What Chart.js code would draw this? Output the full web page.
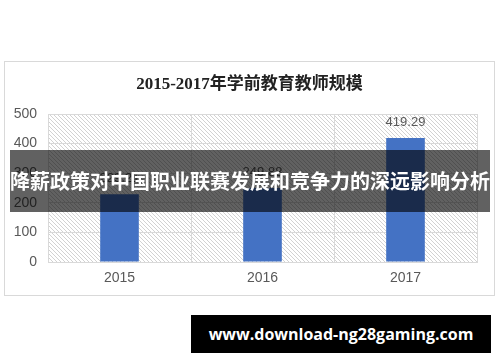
<!DOCTYPE html>
<html>
<head>
<meta charset="utf-8">
<script src="https://cdn.jsdelivr.net/npm/chart.js@4/dist/chart.umd.min.js"></script>
<style>
  html, body { margin: 0; padding: 0; background: #fff; }
  body { width: 500px; height: 362px; position: relative; overflow: hidden; font-family: "Noto Sans CJK SC", sans-serif; }
  #box { position: absolute; left: 4px; top: 61px; width: 489px; height: 233px; border: 1px solid #d9d9d9; }
  #box canvas { display: block; }
  #banner { position: absolute; left: 10px; top: 150px; width: 480px; height: 62px; background: rgba(0,0,0,0.62);
            color: #fff; font-weight: bold; font-size: 20px; line-height: 62px; text-align: center; white-space: nowrap; }
  #site { position: absolute; left: 191px; top: 315px; width: 300px; height: 38px; background: #000; color: #fff;
          font: bold 16px "Open Sans", sans-serif; line-height: 38px; text-align: center; white-space: nowrap; }
</style>
</head>
<body>
<div id="box"><canvas id="chart" width="489" height="233"></canvas></div>
<div id="banner">降薪政策对中国职业联赛发展和竞争力的深远影响分析</div>
<div id="site">www.download-ng28gaming.com</div>
<script>
// Preschool teacher headcount (10k), 2015–2017
const years = ['2015', '2016', '2017'];
const teachers = [229.21, 249.88, 419.29];
const yTicks = [0, 100, 200, 300, 400, 500];
const chartTitle = '2015-2017年学前教育教师规模';

// light diagonal hatching for the plot background
function makeHatch() {
  const c = document.createElement('canvas');
  c.width = 4; c.height = 4;
  const g = c.getContext('2d');
  g.strokeStyle = '#d2d2d2';
  g.lineWidth = 1;
  g.beginPath();
  g.moveTo(-1, -1); g.lineTo(5, 5);
  g.moveTo(3, -1); g.lineTo(5, 1);
  g.moveTo(-1, 3); g.lineTo(1, 5);
  g.stroke();
  return c;
}

const hatchBackground = {
  id: 'hatchBackground',
  beforeDraw(chart) {
    const { ctx, chartArea: a } = chart;
    ctx.save();
    ctx.fillStyle = ctx.createPattern(makeHatch(), 'repeat');
    ctx.fillRect(a.left, a.top, a.right - a.left, a.bottom - a.top);
    ctx.restore();
  }
};

const valueLabels = {
  id: 'valueLabels',
  afterDatasetsDraw(chart) {
    const { ctx } = chart;
    const meta = chart.getDatasetMeta(0);
    ctx.save();
    ctx.fillStyle = '#595959';
    ctx.font = '13px "Liberation Sans", Arial, sans-serif';
    ctx.textAlign = 'center';
    ctx.textBaseline = 'alphabetic';
    meta.data.forEach((bar, i) => {
      ctx.fillText(teachers[i].toFixed(2), bar.x, bar.y - 12);
    });
    ctx.restore();
  }
};

new Chart(document.getElementById('chart'), {
  type: 'bar',
  data: {
    labels: years,
    datasets: [{
      data: teachers,
      backgroundColor: '#4472c4',
      borderWidth: 0,
      categoryPercentage: 1,
      barPercentage: 0.27
    }]
  },
  options: {
    responsive: false,
    animation: false,
    events: [],
    layout: { padding: 0 },
    plugins: {
      legend: { display: false },
      tooltip: { enabled: false },
      title: {
        display: true,
        text: chartTitle,
        color: '#222',
        font: { family: '"Liberation Serif", "Noto Sans CJK SC", serif', size: 17, weight: 'bold' },
        padding: { top: 12, bottom: 19.6 }
      }
    },
    scales: {
      x: {
        grid: { color: '#d9d9d9', drawTicks: false, offset: true },
        border: { color: '#d9d9d9' },
        ticks: { color: '#595959', padding: 8, font: { family: '"Liberation Sans", Arial, sans-serif', size: 14 } },
        afterFit(scale) { scale.height = 33; }
      },
      y: {
        min: 0,
        max: 500,
        afterBuildTicks(scale) { scale.ticks = yTicks.map(v => ({ value: v })); },
        grid: { color: '#d9d9d9', drawTicks: false },
        border: { color: '#d9d9d9' },
        ticks: { color: '#595959', padding: 11, font: { family: '"Liberation Sans", Arial, sans-serif', size: 14 } },
        afterFit(scale) { scale.width = 43; }
      },
      // empty right-hand gutter so the plot ends short of the box edge
      gutter: {
        type: 'linear',
        position: 'right',
        display: true,
        grid: { display: false, drawTicks: false },
        border: { display: false },
        ticks: { display: false },
        afterFit(scale) { scale.width = 17; }
      }
    }
  },
  plugins: [hatchBackground, valueLabels]
});
</script>
</body>
</html>
